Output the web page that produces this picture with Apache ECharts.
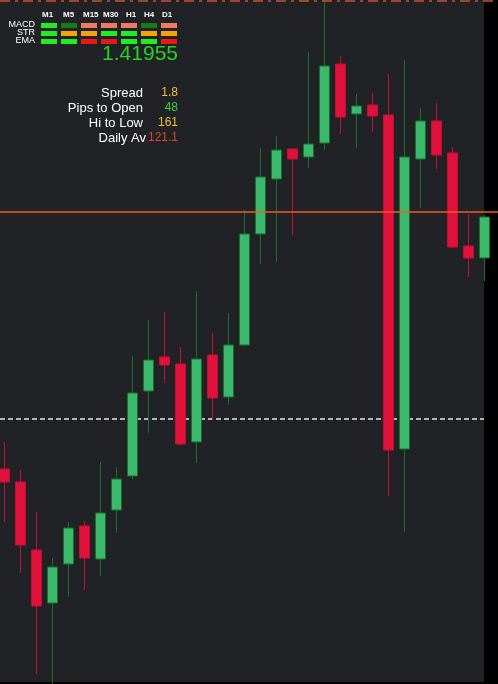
<!DOCTYPE html>
<html>
<head>
<meta charset="utf-8">
<script src="https://cdn.jsdelivr.net/npm/echarts@6/dist/echarts.min.js"></script>
<style>
  html, body { margin: 0; padding: 0; background: #000; }
  #chart { width: 498px; height: 684px; }
</style>
</head>
<body>
<div id="chart"></div>
<script>
// OHLC prices of the visible bars, oldest first
const opens  = [1.41199, 1.41160, 1.40956, 1.40797, 1.40914, 1.41028, 1.40929, 1.41076, 1.41178, 1.41433,
                1.41535, 1.41514, 1.41280, 1.41541, 1.41415, 1.41571, 1.41904, 1.42069, 1.42159, 1.42135,
                1.42177, 1.42414, 1.42264, 1.42291, 1.42261, 1.41259, 1.42129, 1.42243, 1.42147, 1.41868,
                1.41832];
const closes = [1.41160, 1.40971, 1.40788, 1.40905, 1.41022, 1.40932, 1.41067, 1.41169, 1.41427, 1.41526,
                1.41511, 1.41274, 1.41529, 1.41412, 1.41571, 1.41904, 1.42075, 1.42156, 1.42129, 1.42174,
                1.42408, 1.42255, 1.42288, 1.42258, 1.41256, 1.42135, 1.42243, 1.42141, 1.41865, 1.41832,
                1.41955];
const lows   = [1.41040, 1.40887, 1.40584, 1.40554, 1.40815, 1.40836, 1.40878, 1.41007, 1.41169, 1.41307,
                1.41457, 1.41271, 1.41217, 1.41346, 1.41391, 1.41568, 1.41814, 1.41820, 1.41901, 1.42102,
                1.42156, 1.42204, 1.42162, 1.42210, 1.41118, 1.41010, 1.41982, 1.42099, 1.41862, 1.41775,
                1.41763];
const highs  = [1.41280, 1.41196, 1.41070, 1.40932, 1.41040, 1.41043, 1.41220, 1.41205, 1.41538, 1.41646,
                1.41670, 1.41565, 1.41733, 1.41607, 1.41667, 1.41976, 1.42162, 1.42198, 1.42159, 1.42450,
                1.42606, 1.42438, 1.42324, 1.42327, 1.42384, 1.42426, 1.42282, 1.42297, 1.42165, 1.41964,
                1.41961];

// Reference price levels
const askPrice = 1.41972;   // ask line
const openLevel = 1.41349;  // session open (dashed)
const highLevel = 1.42603;  // level along the top edge

// Visible price window
const priceMin = 1.40554;
const priceMax = 1.42606;

// Signal matrix
const timeframes = ['M1', 'M5', 'M15', 'M30', 'H1', 'H4', 'D1'];
const signalNames = ['MACD', 'STR', 'EMA'];
const macdSignals = ['bull', 'bullWeak', 'bearWeak', 'bearWeak', 'bearWeak', 'bullWeak', 'bearWeak'];
const strSignals  = ['bull', 'neutral', 'neutral', 'bull', 'bull', 'neutral', 'neutral'];
const emaSignals  = ['bull', 'bull', 'bear', 'bear', 'bull', 'bull', 'bear'];

// Market stats
const statLabels = ['Spread', 'Pips to Open', 'Hi to Low', 'Daily Av'];
const statValues = ['1.8', '48', '161', '121.1'];

// ---- styling / layout ----
const signalColors = {
  bull: '#22ec22', bullWeak: '#177a17', bearWeak: '#ef7a62', neutral: '#f5a30a', bear: '#ee1515'
};
const statColors = ['#f0c232', '#36d036', '#f0c232', '#e0452a'];
const statY = [93, 108, 123, 138];
const statLabelRight = [143, 143, 143, 146];
const tfLabelX = [42, 63, 83, 103, 126, 144, 162];
const FONT = '"Liberation Sans", Arial, sans-serif';
const PLOT_W = 484, PLOT_H = 682, W = 498;
const BAR_STEP = 16, FIRST_CENTER = 4.5;
const ASK_COLOR = '#ee5a22';

const chart = echarts.init(document.getElementById('chart'), null, { renderer: 'canvas' });

const candles = opens.map((o, i) => [i, o, closes[i], lows[i], highs[i]]);

const graphics = [];
// plot area background
graphics.push({ type: 'rect', z: -10, shape: { x: 0, y: 0, width: PLOT_W, height: PLOT_H },
  style: { fill: '#202226' }, silent: true });
// price-scale strip on the right
graphics.push({ type: 'rect', z: 2, shape: { x: PLOT_W, y: 0, width: W - PLOT_W, height: 684 },
  style: { fill: '#000' }, silent: true });

// signal matrix
timeframes.forEach((tf, i) => {
  graphics.push({ type: 'text', z: 10, style: { x: tfLabelX[i], y: 15, text: tf, fill: '#ffffff',
    font: 'bold 8px ' + FONT, textAlign: 'left', textVerticalAlign: 'middle' } });
});
const signalRows = [macdSignals, strSignals, emaSignals];
signalRows.forEach((row, r) => {
  graphics.push({ type: 'text', z: 10, style: { x: 35, y: 25 + 8 * r, text: signalNames[r], fill: '#ffffff',
    font: '9px ' + FONT, textAlign: 'right', textVerticalAlign: 'middle' } });
  row.forEach((s, i) => {
    graphics.push({ type: 'rect', z: 10, shape: { x: 41 + 20 * i, y: 23 + 8 * r, width: 16, height: 5 },
      style: { fill: signalColors[s] } });
  });
});

// last price
graphics.push({ type: 'text', z: 10, style: { x: 178, y: 54, text: closes[closes.length - 1].toFixed(5),
  fill: '#22d422', font: '21px ' + FONT, textAlign: 'right', textVerticalAlign: 'middle' } });

// stats
statLabels.forEach((lab, i) => {
  graphics.push({ type: 'text', z: 10, style: { x: statLabelRight[i], y: statY[i], text: lab, fill: '#ffffff',
    font: '13px ' + FONT, textAlign: 'right', textVerticalAlign: 'middle' } });
  graphics.push({ type: 'text', z: 10, style: { x: 178, y: statY[i], text: statValues[i], fill: statColors[i],
    font: '12px ' + FONT, textAlign: 'right', textVerticalAlign: 'middle' } });
});

const xMin = -FIRST_CENTER / BAR_STEP;
const xMax = xMin + W / BAR_STEP;

chart.setOption({
  backgroundColor: '#000',
  animation: false,
  grid: { left: 0, right: 0, top: 0, bottom: 0 },
  xAxis: { type: 'value', min: xMin, max: xMax, show: false, splitLine: { show: false } },
  yAxis: { type: 'value', min: priceMin, max: priceMax, show: false, splitLine: { show: false } },
  graphic: graphics,
  series: [
    {
      type: 'line',
      data: [],
      z: 1,
      silent: true,
      markLine: {
        z: 1,
        silent: true,
        precision: 5,
        symbol: ['none', 'none'],
        label: { show: false },
        lineStyle: { color: '#e8e8e8', type: [5, 3], width: 1.5 },
        data: [{ yAxis: openLevel }]
      }
    },
    {
      type: 'line',
      data: [],
      z: 6,
      silent: true,
      markLine: {
        z: 6,
        silent: true,
        precision: 5,
        symbol: ['none', 'none'],
        label: { show: false },
        emphasis: { disabled: true },
        lineStyle: { color: ASK_COLOR, type: 'solid', width: 1.5, opacity: 1 },
        data: [{ yAxis: askPrice }]
      }
    },
    {
      type: 'candlestick',
      z: 3,
      clip: false,
      barWidth: 10,
      data: candles,
      itemStyle: {
        color: '#3bb86c',
        color0: '#e0123c',
        borderColor: '#17702f',
        borderColor0: '#c80f31',
        borderWidth: 1
      },
      markLine: {
        z: 5,
        silent: true,
        precision: 5,
        symbol: ['none', 'none'],
        label: { show: false },
        lineStyle: { color: '#c8542c', type: [10, 5, 3, 5], width: 1.5, opacity: 1 },
        data: [{ yAxis: highLevel }]
      }
    }
  ]
});
</script>
</body>
</html>
